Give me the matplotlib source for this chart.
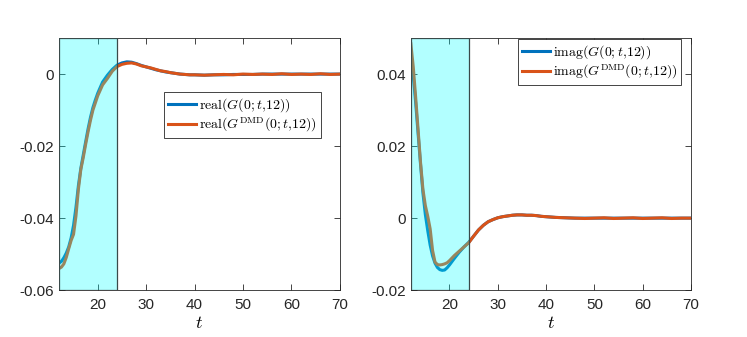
import matplotlib
matplotlib.use("Agg")
import matplotlib.pyplot as plt
import numpy as np

plt.rcParams['font.family'] = ['Liberation Sans', 'DejaVu Sans']
plt.rcParams['mathtext.fontset'] = 'cm'

# time samples
t = [12, 12.5, 13, 13.5, 14, 14.5, 15, 15.5, 16, 16.5, 17, 17.5, 18, 18.5, 19, 19.5,
     20, 21, 22, 23, 24, 25, 26, 27, 28, 29, 30, 31, 32, 33, 34, 35, 36, 37, 38, 39,
     40, 42, 44, 46, 48, 50, 52, 54, 56, 58, 60, 62, 64, 66, 68, 70]

# real part, exact and DMD
real_g = [-0.0525, -0.0520, -0.0510, -0.0497, -0.0480, -0.0455, -0.0420, -0.0370,
          -0.0310, -0.0262, -0.0225, -0.0188, -0.0152, -0.0120, -0.0093, -0.0072,
          -0.0053, -0.0022, -0.0003, 0.0013, 0.0025, 0.0031, 0.0034, 0.0033, 0.0029,
          0.0024, 0.0020, 0.0016, 0.0012, 0.0009, 0.0006, 0.0004, 0.0002, 0.0000,
          -0.0001, -0.0002, -0.0002, -0.0003, -0.0002, -0.0002, -0.0001, -0.0001,
          -0.0001, 0.0000, 0.0000, 0.0000, 0.0000, 0.0000, 0.0000, 0.0000, 0.0000, 0.0000]
real_dmd = [-0.0540, -0.0536, -0.0527, -0.0509, -0.0485, -0.0462, -0.0445, -0.0394,
            -0.0320, -0.0265, -0.0232, -0.0195, -0.0160, -0.0128, -0.0100, -0.0080,
            -0.0060, -0.0030, -0.0012, 0.0008, 0.0021, 0.0027, 0.0030, 0.0031, 0.0028,
            0.0023, 0.0020, 0.0017, 0.0013, 0.0009, 0.0007, 0.0004, 0.0002, 0.0000,
            -0.0001, -0.0002, -0.0002, -0.0003, -0.0002, -0.0001, -0.0002, 0.0000,
            -0.0001, 0.0000, -0.0001, 0.0001, -0.0001, 0.0000, -0.0001, 0.0001, -0.0001, 0.0000]

# imaginary part, exact and DMD
imag_g = [0.0447, 0.0395, 0.0320, 0.0235, 0.0150, 0.0070, 0.0010, -0.0035,
          -0.0075, -0.0105, -0.0125, -0.0137, -0.0143, -0.0145, -0.0144, -0.0138,
          -0.0130, -0.0112, -0.0095, -0.0080, -0.0067, -0.0050, -0.0033, -0.0020,
          -0.0010, -0.0004, 0.0001, 0.0004, 0.0006, 0.0008, 0.0009, 0.0009, 0.0008,
          0.0008, 0.0007, 0.0005, 0.0004, 0.0002, 0.0001, 0.0000, 0.0000, 0.0000,
          0.0000, 0.0000, 0.0000, 0.0000, 0.0000, 0.0000, 0.0000, 0.0000, 0.0000, 0.0000]
imag_dmd = [0.0484, 0.0420, 0.0335, 0.0245, 0.0155, 0.0080, 0.0035, 0.0005,
            -0.0030, -0.0090, -0.0122, -0.0129, -0.0130, -0.0129, -0.0127, -0.0124,
            -0.0118, -0.0104, -0.0092, -0.0080, -0.0068, -0.0050, -0.0033, -0.0020,
            -0.0010, -0.0004, 0.0001, 0.0004, 0.0006, 0.0008, 0.0009, 0.0009, 0.0008,
            0.0008, 0.0007, 0.0005, 0.0004, 0.0002, 0.0001, 0.0000, -0.0001, 0.0000,
            0.0001, -0.0001, 0.0000, 0.0001, -0.0001, 0.0000, 0.0001, -0.0001, 0.0000, 0.0000]

train_window = [12, 24]

blue = '#0072BD'
orange = '#D95319'

fig = plt.figure(figsize=(7.47, 3.37), dpi=100)
ax1 = fig.add_axes([0.079, 0.139, 0.376, 0.748])
ax2 = fig.add_axes([0.550, 0.139, 0.375, 0.748])

panels = [
    (ax1, real_g, real_dmd, r'$\mathrm{real}(G(0;t{,}12))$',
     r'$\mathrm{real}(G^{\mathrm{DMD}}(0;t{,}12))$', (-0.06, 0.01),
     [-0.06, -0.04, -0.02, 0], ['-0.06', '-0.04', '-0.02', '0'],
     (0.374, 0.603)),
    (ax2, imag_g, imag_dmd, r'$\mathrm{imag}(G(0;t{,}12))$',
     r'$\mathrm{imag}(G^{\mathrm{DMD}}(0;t{,}12))$', (-0.02, 0.05),
     [-0.02, 0, 0.02, 0.04], ['-0.02', '0', '0.02', '0.04'],
     (0.382, 0.813)),
]

for ax, g, dmd, lab1, lab2, ylim, yt, ytl, legpos in panels:
    ax.plot(t, g, color=blue, lw=2.2, label=lab1, zorder=2)
    ax.plot(t, dmd, color=orange, lw=2.2, label=lab2, zorder=3)
    ax.axvspan(train_window[0], train_window[1], facecolor=(0, 1, 1), alpha=0.3,
               edgecolor='none', zorder=4)
    ax.axvspan(train_window[0], train_window[1], facecolor='none',
               edgecolor='#3a4a4a', lw=0.9, zorder=5)
    ax.set_xlim(12, 70)
    ax.set_ylim(*ylim)
    ax.set_xticks([20, 30, 40, 50, 60, 70])
    ax.set_yticks(yt)
    ax.set_yticklabels(ytl)
    ax.tick_params(direction='in', top=True, right=True, labelsize=11,
                   colors='#262626', length=4, width=0.6)
    ax.tick_params(axis='x', pad=6)
    for sp in ax.spines.values():
        sp.set_color('#262626')
        sp.set_linewidth(0.6)
    ax.set_xlabel(r'$t$', fontsize=13, labelpad=2)
    leg = ax.legend(loc='lower left', bbox_to_anchor=legpos, fontsize=10,
                    fancybox=False, framealpha=1, edgecolor='#262626',
                    handlelength=2.0, handletextpad=0.2, borderpad=0.3,
                    labelspacing=0.12, borderaxespad=0)
    leg.get_frame().set_linewidth(0.6)

plt.savefig('out.png', dpi=100)
